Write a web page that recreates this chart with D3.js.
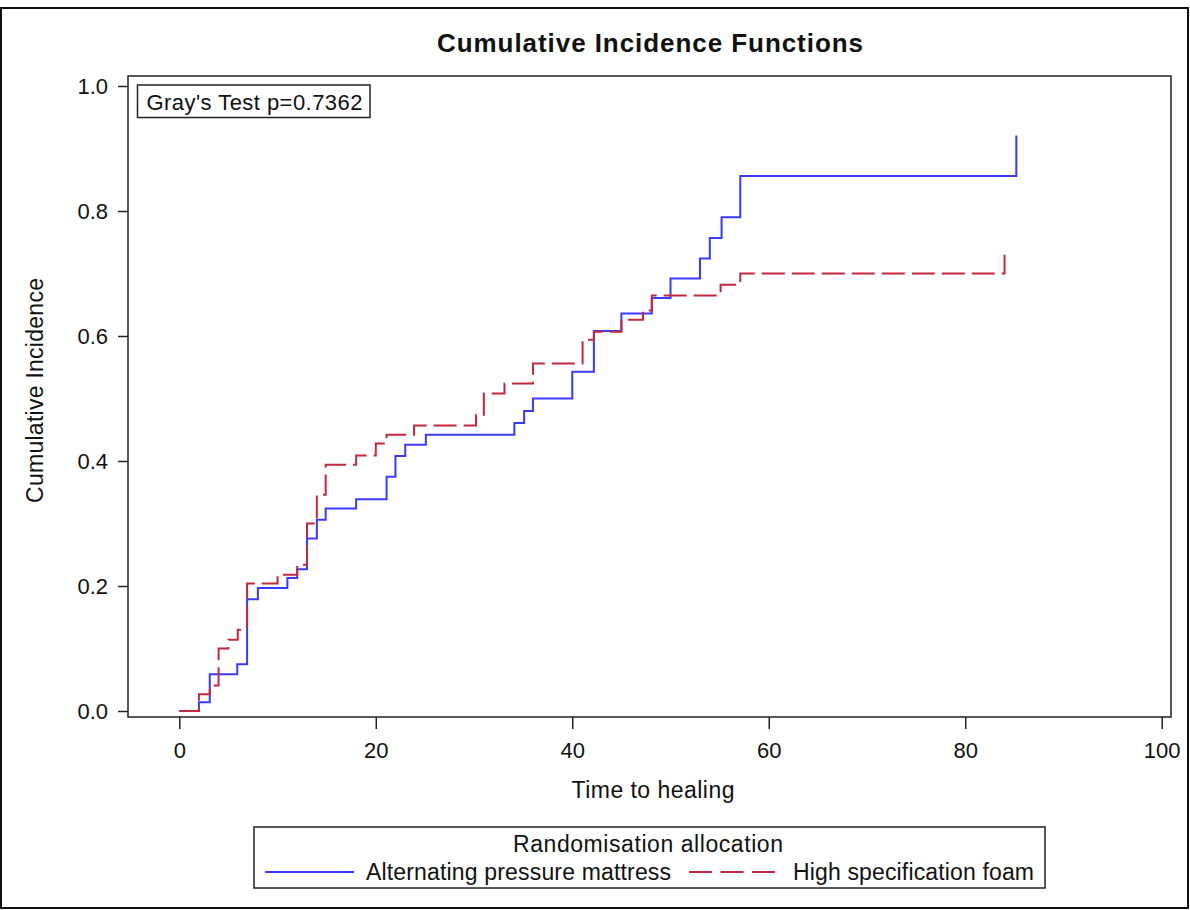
<!DOCTYPE html>
<html>
<head>
    <meta charset='utf-8'>
    <title>Cumulative Incidence Functions</title>
    <style>
        body { margin: 0; background: #fff; }
        text { font-family: Arial, "Liberation Sans", sans-serif; fill: #111; }
    </style>
</head>
<body>
<svg width="1190" height="910"></svg>
<script src="https://d3js.org/d3.v7.min.js"></script>
<script>
    // Alternating pressure mattress (step function, value jumps at each time)
    const blueTimes = [0, 2, 3.1, 5.9, 6.9, 8, 11, 12, 13, 14, 14.9, 18, 21.1, 22, 23, 25.1,
        34.1, 35.1, 36, 40, 42.2, 45, 48.1, 50, 53, 54, 55.2, 57.1, 85.2]
    const blueValues = [0, 0.014, 0.059, 0.075, 0.179, 0.197, 0.213, 0.227, 0.276, 0.306, 0.324, 0.339,
        0.375, 0.408, 0.426, 0.442, 0.461, 0.480, 0.500, 0.543, 0.608, 0.636, 0.661, 0.692, 0.724,
        0.757, 0.790, 0.856, 0.921]

    // High specification foam
    const redTimes = [0, 2, 3.1, 4, 5, 5.95, 6.9, 10, 12, 13, 14, 14.9, 18, 20, 21.1, 23.9, 30.2,
        31, 33.1, 36, 41.05, 42.2, 45, 47.2, 48.1, 55.1, 57.1, 84]
    const redValues = [0, 0.027, 0.041, 0.100, 0.114, 0.130, 0.204, 0.218, 0.234, 0.300, 0.346, 0.394,
        0.409, 0.428, 0.442, 0.457, 0.474, 0.508, 0.524, 0.556, 0.594, 0.607, 0.626, 0.641, 0.665,
        0.682, 0.700, 0.730]

    const xTicks = [0, 20, 40, 60, 80, 100]
    const yTicks = [0, 0.2, 0.4, 0.6, 0.8, 1.0]
    const seriesNames = ["Alternating pressure mattress", "High specification foam"]
    const seriesColors = ["#3a3aff", "#c4283c"]
    const pValue = "0.7362"

    const box = {left: 128, right: 1171, top: 76, bottom: 717}

    const x = d3.scaleLinear().domain([0, 100]).range([179.3, 1161.7])
    const y = d3.scaleLinear().domain([0, 1]).range([711, 86])

    const svg = d3.select("svg")

    // outer frame
    svg.append("rect")
        .attr("x", 1).attr("y", 8).attr("width", 1187).attr("height", 900)
        .attr("fill", "none").attr("stroke", "#111").attr("stroke-width", 2)

    svg.append("text")
        .attr("x", 650).attr("y", 52)
        .attr("text-anchor", "middle")
        .attr("font-size", 26).attr("font-weight", "bold")
        .attr("textLength", 426).attr("lengthAdjust", "spacing")
        .text("Cumulative Incidence Functions")

    // axis frame
    svg.append("rect")
        .attr("x", box.left).attr("y", box.top)
        .attr("width", box.right - box.left).attr("height", box.bottom - box.top)
        .attr("fill", "none").attr("stroke", "#222").attr("stroke-width", 1.5)

    const yAxis = svg.append("g")
        .attr("transform", `translate(${box.left},0)`)
        .call(d3.axisLeft(y).tickValues(yTicks).tickFormat(d3.format(".1f")).tickSize(10).tickSizeOuter(0).tickPadding(10))
    yAxis.select(".domain").remove()

    const xAxis = svg.append("g")
        .attr("transform", `translate(0,${box.bottom})`)
        .call(d3.axisBottom(x).tickValues(xTicks).tickFormat(d3.format("d")).tickSize(12).tickSizeOuter(0).tickPadding(13))
    xAxis.select(".domain").remove()

    svg.selectAll(".tick line").attr("stroke", "#222").attr("stroke-width", 1.5)
    svg.selectAll(".tick text")
        .attr("font-family", "Arial, 'Liberation Sans', sans-serif")
        .attr("font-size", 22).attr("fill", "#111")

    svg.append("text")
        .attr("transform", "translate(43,390.5) rotate(-90)")
        .attr("text-anchor", "middle")
        .attr("font-size", 23)
        .attr("textLength", 225).attr("lengthAdjust", "spacing")
        .text("Cumulative Incidence")

    svg.append("text")
        .attr("x", 653).attr("y", 798)
        .attr("text-anchor", "middle")
        .attr("font-size", 23)
        .attr("textLength", 163).attr("lengthAdjust", "spacing")
        .text("Time to healing")

    // Gray's test inset
    svg.append("rect")
        .attr("x", 137.5).attr("y", 85).attr("width", 232.5).attr("height", 32.5)
        .attr("fill", "#fff").attr("stroke", "#222").attr("stroke-width", 1.5)
    svg.append("text")
        .attr("x", 146.5).attr("y", 110)
        .attr("font-size", 22)
        .attr("textLength", 216).attr("lengthAdjust", "spacing")
        .text("Gray's Test p=" + pValue)

    const line = d3.line()
        .x(d => x(d[0]))
        .y(d => y(d[1]))
        .curve(d3.curveStepAfter)

    const series = [
        {name: seriesNames[0], color: seriesColors[0], dash: null, legendDash: null, points: d3.zip(blueTimes, blueValues)},
        {name: seriesNames[1], color: seriesColors[1], dash: "23,7", legendDash: "23,8.5", points: d3.zip(redTimes, redValues)}
    ]

    // the final time carries a jump: draw the last vertical segment too
    series.forEach(s => {
        const pts = s.points.slice()
        const last = pts[pts.length - 1]
        const prev = pts[pts.length - 2]
        pts.splice(pts.length - 1, 1, [last[0], prev[1]], last)
        svg.append("path")
            .datum(pts)
            .attr("fill", "none")
            .attr("stroke", s.color)
            .attr("stroke-width", 2)
            .attr("stroke-dasharray", s.dash)
            .attr("d", line)
    })

    // legend
    const legend = svg.append("g")
    legend.append("rect")
        .attr("x", 254).attr("y", 827).attr("width", 791).attr("height", 61)
        .attr("fill", "none").attr("stroke", "#222").attr("stroke-width", 1.5)
    legend.append("text")
        .attr("x", 648).attr("y", 852)
        .attr("text-anchor", "middle")
        .attr("font-size", 23)
        .attr("textLength", 270).attr("lengthAdjust", "spacing")
        .text("Randomisation allocation")

    const entries = [
        {x0: 265, x1: 354, tx: 366, tw: 305},
        {x0: 689, x1: 775, tx: 793, tw: 241}
    ]
    entries.forEach((e, i) => {
        legend.append("line")
            .attr("x1", e.x0).attr("x2", e.x1).attr("y1", 872).attr("y2", 872)
            .attr("stroke", series[i].color).attr("stroke-width", 2)
            .attr("stroke-dasharray", series[i].legendDash)
        legend.append("text")
            .attr("x", e.tx).attr("y", 880)
            .attr("font-size", 23)
            .attr("textLength", e.tw).attr("lengthAdjust", "spacing")
            .text(series[i].name)
    })
</script>
</body>
</html>
